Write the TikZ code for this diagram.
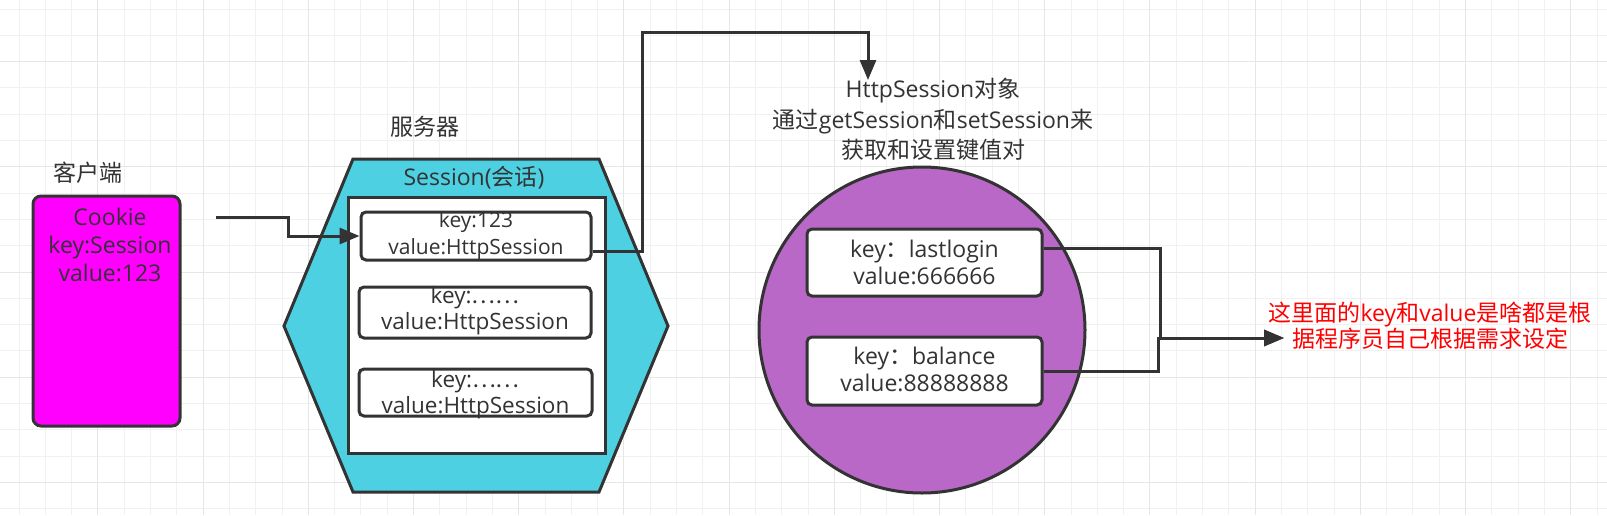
\documentclass[tikz,border=0pt]{standalone}
\usepackage{fontspec}
\setmainfont{Open Sans}
\newfontfamily\cjk{Noto Sans CJK SC}
\usetikzlibrary{arrows.meta}
\definecolor{ink}{HTML}{333333}
\definecolor{magent}{HTML}{FF00FF}
\definecolor{cyanfill}{HTML}{4DD0E1}
\definecolor{purp}{RGB}{185,104,199}
\definecolor{gridminor}{HTML}{F1F1F1}
\definecolor{gridmajor}{HTML}{E6E6E6}
\tikzset{
  lbl/.style={text=ink, font=\fontsize{23}{28}\selectfont, align=center, inner sep=0pt},
  boxline/.style={draw=ink, line width=3pt},
  entrybox/.style={boxline, fill=white, rounded corners=5pt, inner sep=0pt},
  conn/.style={draw=ink, line width=3pt},
  arr/.style={conn, -{Triangle[length=20pt,width=16pt]}},
}
\begin{document}
\begin{tikzpicture}[x=1pt,y=-1pt]
\useasboundingbox (0,0) rectangle (1607,515);
\fill[white] (0,0) rectangle (1607,515);
% grid
\foreach \i in {0,...,60} {\draw[gridminor, line width=1pt] ({19+26.3*\i},0) -- ({19+26.3*\i},515);}
\foreach \j in {0,...,19} {\draw[gridminor, line width=1pt] (0,{9+26.3*\j}) -- (1607,{9+26.3*\j});}
\foreach \i in {3,7,...,59} {\draw[gridmajor, line width=1pt] ({19+26.3*\i},0) -- ({19+26.3*\i},515);}
\foreach \j in {2,6,...,18} {\draw[gridmajor, line width=1pt] (0,{9+26.3*\j}) -- (1607,{9+26.3*\j});}

% client
\node[lbl] (clientlbl) at (88,173) {\cjk 客户端};
\node[boxline, fill=magent, rounded corners=8pt, minimum width=147pt, minimum height=230pt, inner sep=0pt] (client) at (106.5,311) {};
\node[lbl] (clienttxt) at (110,245) {Cookie\\key:Session\\value:123};

% server
\node[lbl] (serverlbl) at (425,127) {\cjk 服务器};
\draw[boxline, fill=cyanfill, line join=miter] (353,159) -- (599,159) -- (668,326) -- (599,492) -- (353,492) -- (284,326) -- cycle;
\node[lbl] (sessiontitle) at (474,178) {Session({\cjk 会话})};
\node[boxline, fill=white, minimum width=257pt, minimum height=256pt, inner sep=0pt] (store) at (476.5,325) {};
\node[entrybox, minimum width=230pt, minimum height=48pt] (e1) at (476,236) {};
\node[entrybox, minimum width=232pt, minimum height=51pt] (e2) at (475,312.5) {};
\node[entrybox, minimum width=233pt, minimum height=47pt] (e3) at (475.5,392.5) {};
\node[lbl, font=\fontsize{21}{27}\selectfont] (e1t) at (e1) {key:123\\value:HttpSession};
\node[lbl, font=\fontsize{22.5}{26}\selectfont] (e2t) at (475,311) {key:{\cjk ……}\\value:HttpSession};
\node[lbl, font=\fontsize{22.5}{26}\selectfont] (e3t) at (475.5,395) {key:{\cjk ……}\\value:HttpSession};

% HttpSession object
\node[lbl, font=\fontsize{23}{30.5}\selectfont] (objlbl) at (933,119.5) {HttpSession{\cjk 对象}\\{\cjk 通过}getSession{\cjk 和}setSession{\cjk 来}\\{\cjk 获取和设置键值对}};
\node[circle, boxline, fill=purp, minimum size=326pt, inner sep=0pt] (obj) at (922,330) {};
\node[entrybox, minimum width=235pt, minimum height=67pt] (eA) at (924.5,262.5) {};
\node[entrybox, minimum width=235pt, minimum height=68pt] (eB) at (924.5,371) {};
\node[lbl, font=\fontsize{23}{27}\selectfont] (eAt) at (eA) {key{\cjk ：}lastlogin\\value:666666};
\node[lbl, font=\fontsize{23}{27}\selectfont] (eBt) at (924.5,369.5) {key{\cjk ：}balance\\value:88888888};

% note
\node[lbl, text=red, font=\fontsize{23}{25}\selectfont] (note) at (1430,325.5) {{\cjk 这里面的}key{\cjk 和}value{\cjk 是啥都是根}\\{\cjk 据程序员自己根据需求设定}};

% connectors
\coordinate (c1start) at (216,217);
\coordinate (objarrow) at (868,80);
\coordinate (notearrow) at (1284,338);
\draw[arr] (c1start) -- (288,217) -- (288,236) -- (e1.west);
\draw[arr] ([yshift=-15pt]e1.east) -- (642,251) -- (642,32) -- (868,32) -- (objarrow);
\draw[arr] ([yshift=14.5pt]eA.east) -- (1160,248) -- (1160,338) -- (notearrow);
\draw[arr] (eB.east) -- (1158,371) -- (1158,338) -- (notearrow);
\end{tikzpicture}
\end{document}
